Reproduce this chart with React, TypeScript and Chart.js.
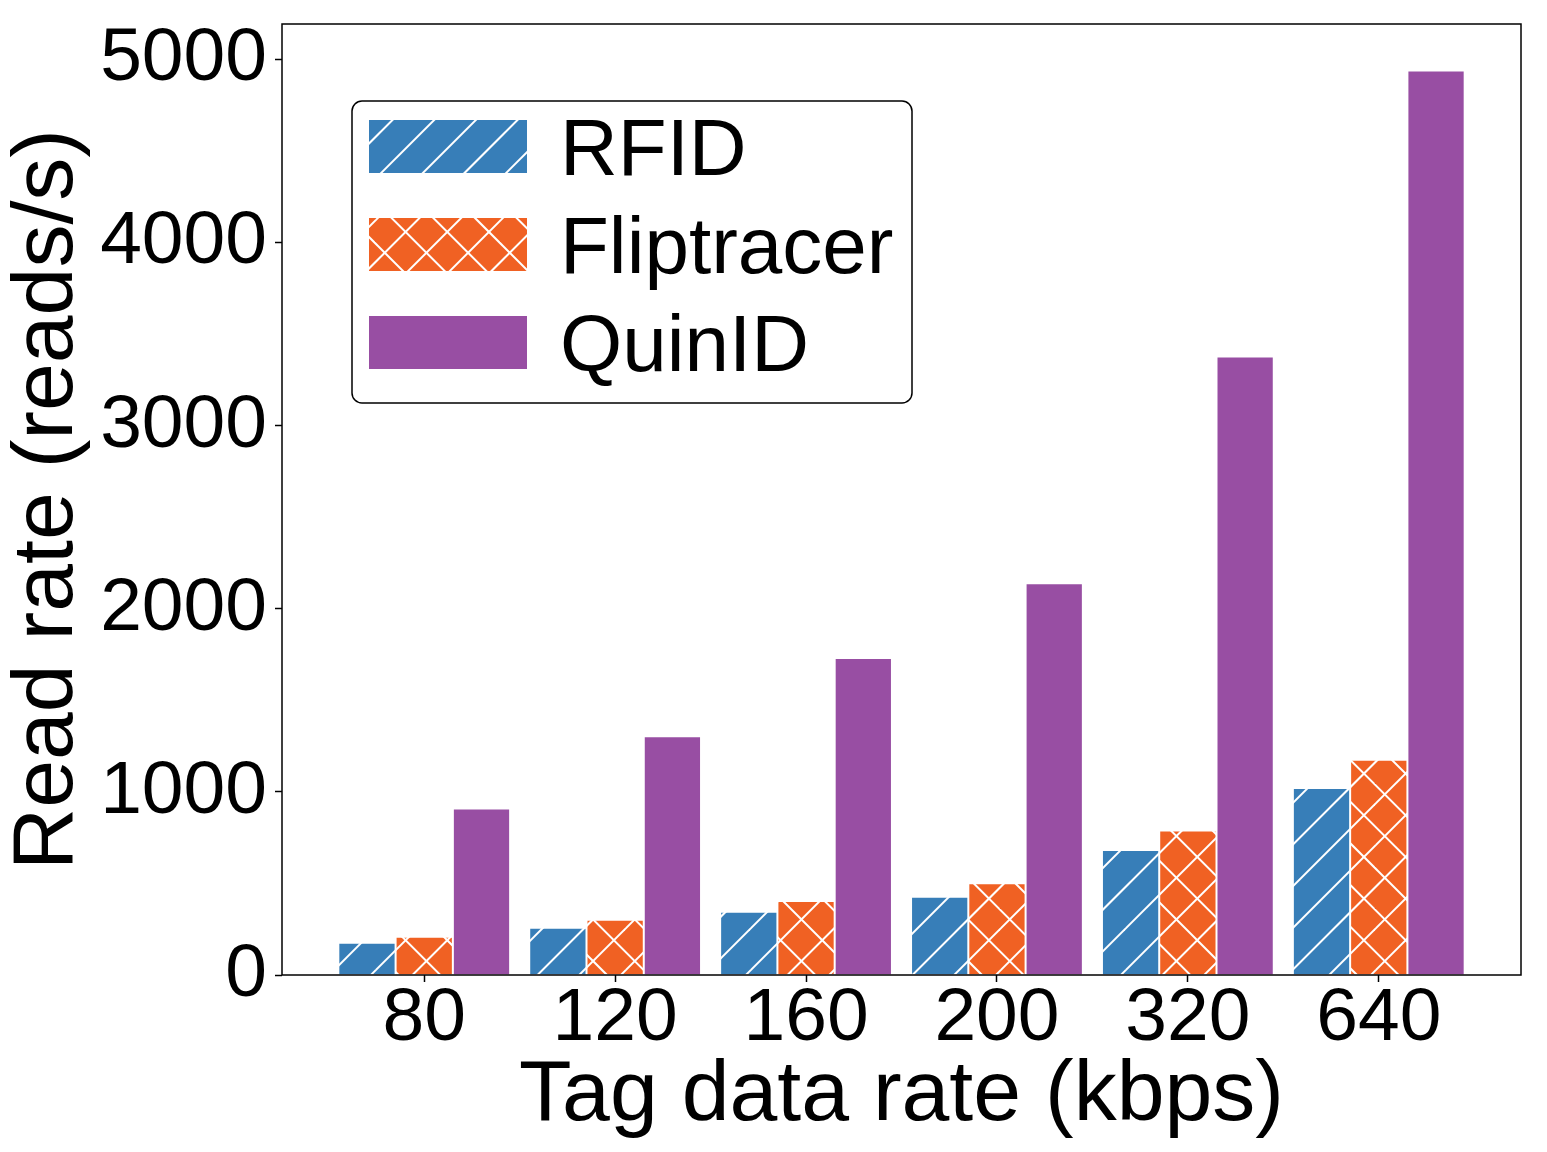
import { useEffect, useRef } from 'react';
import { Chart, registerables } from 'chart.js';

Chart.register(...registerables);

// tag data rate (kbps) on the x axis
const rates = ['80', '120', '160', '200', '320', '640'];
// read rate (reads/s)
const rfid = [176, 258, 346, 428, 683, 1022];
const fliptracer = [209, 302, 404, 501, 789, 1176];
const quinid = [910, 1304, 1732, 2140, 3379, 4941];
const yTicks = [0, 1000, 2000, 3000, 4000, 5000];

const FONT = '"Liberation Sans", Arial, Helvetica, sans-serif';
const TILE = 125;
const STEP = TILE / 3;

// matplotlib-like hatch: white lines on a solid fill, anchored to the canvas
function hatch(color: string, dirs: string[]) {
  const tile = document.createElement('canvas');
  tile.width = TILE;
  tile.height = TILE;
  const g = tile.getContext('2d')!;
  g.fillStyle = color;
  g.fillRect(0, 0, TILE, TILE);
  g.strokeStyle = '#ffffff';
  g.lineWidth = 2;
  for (const d of dirs) {
    for (let i = -5; i <= 9; i++) {
      g.beginPath();
      if (d === '/') {
        const c = 12.5 + i * STEP; // x + y = c
        g.moveTo(c + 20, -20);
        g.lineTo(c - TILE - 20, TILE + 20);
      } else {
        const c = 7 + i * STEP; // x - y = c
        g.moveTo(c - 20, -20);
        g.lineTo(c + TILE + 20, TILE + 20);
      }
      g.stroke();
    }
  }
  return g.createPattern(tile, 'repeat')!;
}

const frame = {
  id: 'frame',
  afterDatasetsDraw(chart: any) {
    const { ctx, chartArea: a } = chart;
    ctx.save();
    ctx.strokeStyle = '#000';
    ctx.lineWidth = 1.5;
    ctx.strokeRect(a.left, a.top, a.right - a.left, a.bottom - a.top);
    ctx.restore();
  },
};

const legendBox = {
  id: 'legendBox',
  afterDraw(chart: any) {
    const { ctx, chartArea: a } = chart;
    const x = a.left + 70;
    const y = a.top + 77;
    ctx.save();
    ctx.beginPath();
    ctx.roundRect(x, y, 560, 302, 10);
    ctx.fillStyle = '#fff';
    ctx.fill();
    ctx.lineWidth = 1.5;
    ctx.strokeStyle = '#000';
    ctx.stroke();
    ctx.font = `80px ${FONT}`;
    ctx.textBaseline = 'alphabetic';
    chart.data.datasets.forEach((ds: any, i: number) => {
      const top = y + 19 + i * 98;
      ctx.fillStyle = ds.backgroundColor;
      ctx.fillRect(x + 17, top, 158, 53);
      ctx.fillStyle = '#000';
      ctx.fillText(ds.label, x + 208, top + 55);
    });
    ctx.restore();
  },
};

export default function App() {
  const canvasRef = useRef<HTMLCanvasElement>(null);
  const chartRef = useRef<Chart | null>(null);

  useEffect(() => {
    document.body.style.margin = '0';
    if (!canvasRef.current) return;
    if (chartRef.current) chartRef.current.destroy();

    const ticks = { font: { size: 75, family: FONT, lineHeight: 1 }, color: '#000' };
    const grid = {
      display: true,
      offset: false,
      drawOnChartArea: false,
      drawTicks: true,
      tickLength: 7,
      tickColor: '#000',
      tickWidth: 1.5,
    };
    const toPoints = (vals: number[]) => vals.map((v, i) => ({ x: i, y: v }));

    chartRef.current = new Chart(canvasRef.current, {
      type: 'bar',
      data: {
        datasets: [
          { label: 'RFID', data: toPoints(rfid), backgroundColor: hatch('#377eb8', ['/']) },
          { label: 'Fliptracer', data: toPoints(fliptracer), backgroundColor: hatch('#f06123', ['/', '\\']) },
          { label: 'QuinID', data: toPoints(quinid), backgroundColor: '#984ea3' },
        ] as any,
      },
      plugins: [frame, legendBox],
      options: {
        responsive: true,
        maintainAspectRatio: false,
        animation: false,
        layout: { padding: { top: 24, right: 26, left: 0, bottom: 0 } },
        datasets: {
          bar: { categoryPercentage: 0.9, barPercentage: 1, borderColor: '#ffffff', borderWidth: 1 },
        },
        plugins: { legend: { display: false }, tooltip: { enabled: false } },
        scales: {
          x: {
            type: 'linear',
            offset: false,
            min: -0.745,
            max: 5.745,
            afterBuildTicks: (s: any) => {
              s.ticks = rates.map((_, i) => ({ value: i }));
            },
            afterFit: (s: any) => {
              s.height = 177;
              s.paddingLeft = 0;
              s.paddingRight = 0;
            },
            ticks: { ...ticks, padding: 0, maxRotation: 0, autoSkip: false, callback: (_v: any, i: number) => rates[i] },
            grid,
            border: { display: false },
            title: {
              display: true,
              text: 'Tag data rate (kbps)',
              color: '#000',
              font: { size: 86, family: FONT, lineHeight: 1.1 },
              padding: { top: 0, bottom: 8 },
            },
          },
          y: {
            min: 0,
            max: 5195,
            afterBuildTicks: (s: any) => {
              s.ticks = yTicks.map((v) => ({ value: v }));
            },
            afterFit: (s: any) => {
              s.width = 282;
              s.paddingTop = 0;
              s.paddingBottom = 0;
            },
            ticks: { ...ticks, padding: 8, callback: (v: any) => String(v) },
            grid,
            border: { display: false },
            title: {
              display: true,
              text: 'Read rate (reads/s)',
              color: '#000',
              font: { size: 86, family: FONT, lineHeight: 1.1 },
              padding: { top: 1, bottom: 0 },
            },
          },
        },
      } as any,
    });

    return () => {
      if (chartRef.current) {
        chartRef.current.destroy();
        chartRef.current = null;
      }
    };
  }, []);

  return (
    <div style={{ width: 1547, height: 1152, background: '#fff' }}>
      <canvas ref={canvasRef}></canvas>
    </div>
  );
}
